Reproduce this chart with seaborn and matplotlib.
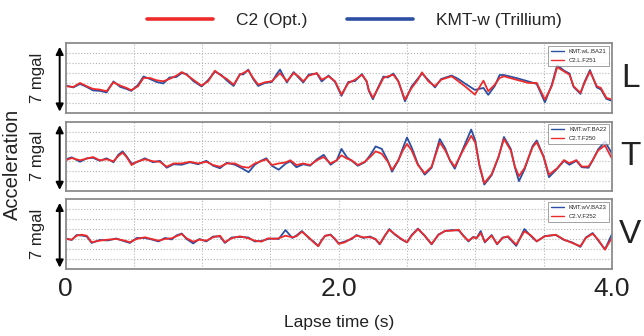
import numpy as np
import pandas as pd
import matplotlib
matplotlib.use("Agg")
import matplotlib.pyplot as plt
from matplotlib.lines import Line2D
import seaborn as sns

# ---------------- data ----------------
t_L = [0, .056, .105, .154, .2, .25, .3, .35, .4, .445, .48, .53, .57, .617, .666, .715, .76, .81, .85, .885,
       .934, .995, 1.044, 1.093, 1.14, 1.18, 1.23, 1.276, 1.3, 1.337, 1.373, 1.41, 1.46, 1.51, 1.546, 1.57,
       1.62, 1.67, 1.705, 1.74, 1.78, 1.84, 1.875, 1.925, 1.973, 2.02, 2.07, 2.12, 2.17, 2.205, 2.22, 2.25,
       2.29, 2.327, 2.36, 2.4, 2.436, 2.485, 2.534, 2.58, 2.61, 2.656, 2.705, 2.75, 2.827, 2.876, 2.924,
       2.997, 3.06, 3.095, 3.143, 3.178, 3.21, 3.3, 3.39, 3.45, 3.51, 3.56, 3.6, 3.65, 3.69, 3.72, 3.77,
       3.8, 3.84, 3.89, 3.92, 3.96, 4.0]
c2_L = [-0.83, -0.9, -0.5, -0.83, -1.1, -1.17, -1.33, -0.43, -0.77, -1.0,
        -1.23, -0.83, 0.0, 0.0, -0.23, -0.33, -0.1, 0.23, 0.6, 0.33,
        -0.17, -0.77, -0.33, 0.73, 0.23, -0.1, -0.67, 0.33, 0.5, 0.77,
        0.0, -0.67, -0.43, -0.33, 0.17, 0.5, -0.33, 0.5, 0.17, -0.33,
        0.23, 0.5, -0.17, 0.17, -0.33, -1.67, -0.5, -0.17, 0.33, -0.33,
        -1.2, -2.0, -1.0, 0.0, 0.17, 0.33, -0.33, -2.17, -1.0, -0.17,
        0.57, -0.33, -0.83, -0.17, 0.17, -0.33, -0.83, -1.67, -0.27, -1.33,
        -0.67, 0.0, 0.17, -0.17, -0.5, -0.5, -2.17, -0.83, 1.1, 0.67,
        0.33, -0.83, -1.5, -0.5, 0.67, -0.83, -1.0, -2.0, -2.17]
kmt_L = [-0.75, -0.95, -0.6, -0.9, -1.25, -1.3, -1.45, -0.35, -0.9, -1.1,
         -1.3, -0.7, 0.15, -0.1, -0.4, -0.55, 0.05, 0.1, 0.5, 0.4,
         -0.3, -0.85, -0.2, 0.65, 0.3, -0.25, -0.8, 0.4, 0.35, 0.85,
         -0.1, -0.8, -0.5, -0.4, 0.4, 0.85, -0.45, 0.6, 0.05, -0.45,
         0.35, 0.45, -0.35, 0.25, -0.4, -1.8, -0.4, -0.3, 0.4, -0.4,
         -1.3, -2.15, -0.9, 0.15, 0.05, 0.45, -0.3, -2.35, -0.85, -0.05,
         0.45, -0.2, -0.95, -0.1, 0.25, -0.1, -0.55, -1.2, -1.0, -1.7,
         -0.8, 0.3, 0.3, 0.0, -0.35, -0.6, -2.45, -0.7, 1.3, 0.75,
         0.45, -0.9, -1.6, -0.4, 0.8, -0.95, -1.15, -2.1, -2.3]

t_T = [0, .044, .105, .154, .2, .25, .3, .35, .385, .417, .446, .483, .52, .58, .64, .69, .74, .79, .85, .91,
       .97, 1.03, 1.08, 1.13, 1.18, 1.24, 1.29, 1.34, 1.385, 1.43, 1.47, 1.51, 1.56, 1.61, 1.645, 1.69, 1.74,
       1.79, 1.84, 1.89, 1.94, 1.985, 2.02, 2.06, 2.095, 2.14, 2.19, 2.23, 2.27, 2.315, 2.36, 2.39, 2.436,
       2.47, 2.5, 2.534, 2.58, 2.63, 2.68, 2.72, 2.74, 2.78, 2.815, 2.85, 2.91, 2.97, 3.0, 3.03, 3.066, 3.12,
       3.17, 3.21, 3.26, 3.29, 3.32, 3.36, 3.42, 3.45, 3.5, 3.54, 3.6, 3.65, 3.69, 3.74, 3.78, 3.83, 3.86,
       3.9, 3.95, 4.0]
c2_T = [-0.4, -0.17, -0.4, -0.23, -0.07, -0.4, -0.3, -0.5, 0.03, 0.37,
        -0.07, -0.88, -0.55, -0.3, -0.5, -0.55, -1.05, -0.72, -0.72, -0.55,
        -0.72, -0.55, -0.88, -1.05, -0.72, -0.72, -1.05, -1.15, -0.72, -0.5,
        -0.3, -0.88, -0.72, -0.62, -0.4, -0.88, -0.72, -0.88, -0.4, -0.07,
        -0.72, -0.4, 0.1, -0.23, -0.4, -0.88, -0.55, -0.07, 0.5, 0.26,
        -0.55, -1.38, -0.4, 0.6, 1.25, 0.6, -0.88, -1.7, -1.05, 0.6,
        1.4, 0.6, -0.4, -1.05, 0.6, 2.07, 1.4, -0.88, -2.7, -1.8,
        -0.05, 1.75, 0.6, -1.03, -2.0, -1.2, 0.93, 1.43, -0.05, -1.85,
        -1.2, -0.38, -0.7, -0.38, -1.03, -1.03, -0.38, 0.6, 1.1, -0.2]
kmt_T = [-0.3, -0.1, -0.55, -0.2, -0.15, -0.45, -0.2, -0.6, 0.15, 0.5,
         0.0, -0.75, -0.6, -0.2, -0.6, -0.45, -1.15, -0.8, -0.85, -0.6,
         -0.8, -0.45, -0.95, -1.2, -0.65, -0.85, -1.2, -1.6, -0.85, -0.45,
         -0.2, -0.95, -1.35, -0.75, -0.5, -1.1, -0.8, -0.95, -0.3, 0.15,
         -0.85, -0.4, 0.75, -0.1, -0.45, -0.95, -0.6, 0.1, 1.0, 0.75,
         -0.45, -1.55, -0.45, 0.85, 1.9, 0.9, -0.8, -1.85, -1.15, 0.8,
         1.75, 0.8, -0.45, -1.25, 0.75, 2.7, 1.6, -0.9, -2.85, -1.9,
         -0.1, 1.95, 0.75, -1.1, -2.5, -1.35, 1.05, 1.6, 0.0, -2.1,
         -1.25, -0.45, -0.85, -0.45, -1.1, -1.15, -0.4, 0.7, 1.5, 0.3]

t_V = [0, .044, .08, .117, .154, .19, .25, .31, .37, .434, .47, .52, .58, .63, .68, .727, .776, .81, .85, .885,
       .934, .98, 1.03, 1.08, 1.13, 1.166, 1.215, 1.276, 1.337, 1.385, 1.434, 1.483, 1.53, 1.56, 1.61, 1.66,
       1.69, 1.73, 1.78, 1.815, 1.85, 1.875, 1.9, 1.94, 1.973, 2.0, 2.046, 2.095, 2.13, 2.18, 2.23, 2.27, 2.3,
       2.34, 2.37, 2.41, 2.46, 2.5, 2.534, 2.58, 2.63, 2.68, 2.73, 2.78, 2.83, 2.88, 2.91, 2.95, 2.985, 3.01,
       3.04, 3.07, 3.12, 3.16, 3.2, 3.24, 3.3, 3.36, 3.41, 3.45, 3.51, 3.59, 3.65, 3.71, 3.77, 3.81, 3.86,
       3.9, 3.95, 4.0]
c2_V = [-0.5, -0.57, -0.17, -0.07, -0.17, -0.83, -0.67, -0.57, -0.5, -0.67,
        -0.83, -0.5, -0.33, -0.5, -0.67, -0.5, -0.43, -0.23, 0.0, -0.43,
        -0.77, -0.57, -0.67, -0.33, -0.17, -0.83, -0.43, -0.23, -0.43, -0.67,
        -0.77, -0.43, -0.5, -0.43, -0.17, -0.33, -0.23, 0.23, -0.33, -0.83,
        -1.23, -0.67, -0.17, -0.1, -0.5, -1.0, -0.83, -0.43, -0.17, -0.33,
        -0.33, -0.5, -1.0, -0.1, 0.43, 0.0, -0.5, -0.83, -0.17, 0.5,
        -0.17, -1.0, -0.1, 0.33, 0.33, 0.43, -0.17, -0.67, -0.33, -0.43,
        0.1, -0.77, -0.17, -1.0, -0.4, -0.23, -1.07, 0.27, -0.17, -0.73,
        -0.23, -0.07, -0.57, -0.9, -1.23, -0.4, 0.03, -0.57, -1.57, -0.4]
kmt_V = [-0.45, -0.6, -0.1, -0.15, -0.25, -0.9, -0.6, -0.65, -0.45, -0.75,
         -0.9, -0.4, -0.4, -0.55, -0.75, -0.4, -0.55, -0.15, 0.05, -0.5,
         -0.95, -0.5, -0.75, -0.25, -0.25, -0.9, -0.35, -0.3, -0.35, -0.75,
         -0.7, -0.5, -0.45, -0.5, 0.4, -0.4, -0.15, 0.3, -0.4, -0.75,
         -1.2, -0.6, -0.2, -0.05, -0.55, -0.95, -0.75, -0.5, -0.1, -0.4,
         -0.25, -0.55, -1.05, -0.15, 0.5, -0.05, -0.55, -0.85, -0.1, 0.55,
         -0.2, -1.05, -0.05, 0.3, 0.4, 0.35, -0.1, -0.75, -0.3, -0.4,
         0.3, -0.85, -0.1, -1.05, -0.35, -0.3, -1.2, 0.5, -0.25, -0.75,
         -0.2, -0.1, -0.6, -0.85, -1.3, -0.35, 0.1, -0.65, -1.55, -0.05]

components = ["L", "T", "V"]
kmt_names = ["KMT.wL.BA21", "KMT.wT.BA22", "KMT.wV.BA23"]
c2_names = ["C2.L.F251", "C2.T.F250", "C2.V.F252"]
legend_labels = ["C2 (Opt.)", "KMT-w (Trillium)"]
xtick_vals = [0, 2.0, 4.0]
xtick_text = ["0", "2.0", "4.0"]

# ---------------- style ----------------
sns.set_theme(style="whitegrid")
plt.rcParams["font.family"] = ["Liberation Sans", "DejaVu Sans"]

RED = "#ee2b2b"
BLUE = "#2c4fa3"
TXT = "#222222"

fig = plt.figure(figsize=(6.44, 3.36), dpi=100)
L, W, H = 0.102, 0.848, 0.2065
bottoms = [0.6646, 0.4315, 0.2003]

panels = [(t_L, kmt_L, c2_L), (t_T, kmt_T, c2_T), (t_V, kmt_V, c2_V)]
axes = []
for i, (tt, kv, cv) in enumerate(panels):
    ax = fig.add_axes([L, bottoms[i], W, H])
    axes.append(ax)
    df = pd.DataFrame({
        "t": list(tt) + list(tt),
        "a": list(kv) + list(cv),
        "s": [kmt_names[i]] * len(tt) + [c2_names[i]] * len(tt),
    })
    sns.lineplot(data=df, x="t", y="a", hue="s",
                 hue_order=[kmt_names[i], c2_names[i]],
                 palette={kmt_names[i]: BLUE, c2_names[i]: RED},
                 estimator=None, sort=False, lw=1.3, ax=ax)
    ax.set_xlim(0, 4.0)
    ax.set_ylim(-3.5, 3.5)
    ax.set_yticks([-2.5, -1.5, -0.5, 0.5, 1.5, 2.5])
    ax.set_yticklabels([])
    ax.set_xticks(np.arange(0, 4.01, 0.5))
    if i == 2:
        ax.set_xticklabels([xtick_text[xtick_vals.index(v)] if v in xtick_vals else "" for v in np.arange(0, 4.01, 0.5)],
                           fontsize=19, color=TXT)
    else:
        ax.set_xticklabels([])
    ax.tick_params(length=0, pad=6)
    ax.set_xlabel("")
    ax.set_ylabel("")
    ax.grid(True, linestyle=":", color="#b5b5b5", linewidth=0.8)
    ax.set_facecolor("white")
    for sp in ax.spines.values():
        sp.set_visible(True)
        sp.set_color("#8c8c8c")
        sp.set_linewidth(1.3)
    leg = ax.legend(loc="upper right", fontsize=4.3, handlelength=2.2, frameon=True,
                    fancybox=False, borderpad=0.5, labelspacing=0.6, borderaxespad=0.4,
                    handletextpad=0.8)
    leg.get_frame().set_edgecolor("#777777")
    leg.get_frame().set_linewidth(0.6)
    for line in leg.get_lines():
        line.set_linewidth(1.0)
    # double-headed scale arrow and label
    ax.annotate("", xy=(-0.011, 0.015), xytext=(-0.011, 0.95), xycoords="axes fraction",
                arrowprops=dict(arrowstyle="<|-|>", color="black", lw=1.4, mutation_scale=11,
                                shrinkA=0, shrinkB=0), annotation_clip=False)
    ax.text(-0.051, 0.5, "7 mgal", rotation=90, transform=ax.transAxes, ha="center", va="center",
            fontsize=12, color=TXT)
    ax.text(1.034, 0.5, components[i], transform=ax.transAxes, ha="center", va="center",
            fontsize=24, color=TXT)

axes[2].set_xlabel("Lapse time (s)", fontsize=12.5, color=TXT, labelpad=10)
fig.text(0.019, 0.51, "Acceleration", rotation=90, ha="center", va="center", fontsize=14.5, color=TXT)

handles = [Line2D([], [], color=RED, lw=2.6), Line2D([], [], color=BLUE, lw=2.6)]
fig.legend(handles, legend_labels, loc="center", bbox_to_anchor=(0.55, 0.94), ncol=2, frameon=False,
           fontsize=12.5, handlelength=3.8, handletextpad=1.3, columnspacing=2.3)

fig.savefig("out.png", dpi=100)
